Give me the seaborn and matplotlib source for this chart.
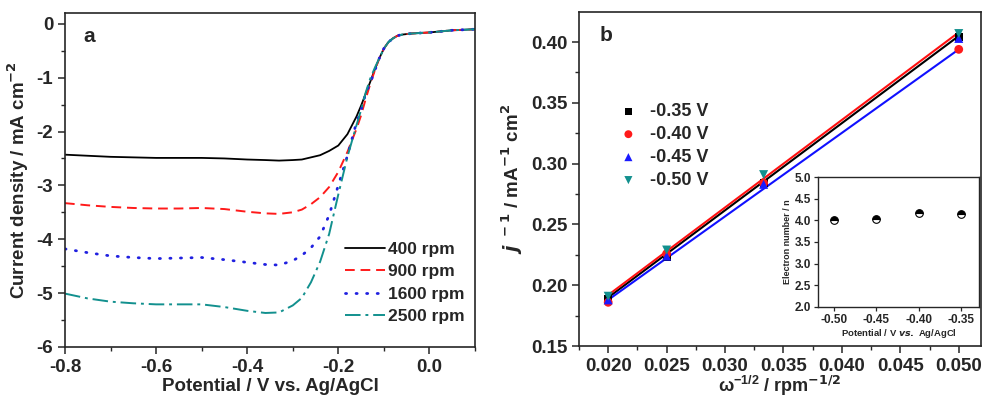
import matplotlib
matplotlib.use("Agg")
import matplotlib.pyplot as plt
import seaborn as sns
from matplotlib.ticker import MultipleLocator

# Panel a: LSV curves (potential grid shared by all rotation rates)
potential = [-0.80, -0.75, -0.70, -0.65, -0.60, -0.55, -0.50, -0.45, -0.40, -0.36, -0.33,
             -0.30, -0.28, -0.26, -0.24, -0.22, -0.20, -0.18, -0.16, -0.15, -0.14, -0.13,
             -0.12, -0.11, -0.10, -0.09, -0.08, -0.07, -0.06, -0.04, -0.02, 0.00, 0.05, 0.10]
tail = [-0.64, -0.46, -0.34, -0.27, -0.22, -0.20, -0.18, -0.17, -0.16, -0.12, -0.10]
j_400 = [-2.43, -2.45, -2.47, -2.48, -2.49, -2.49, -2.49, -2.50, -2.52, -2.53, -2.54,
         -2.53, -2.52, -2.48, -2.44, -2.36, -2.26, -2.05, -1.72, -1.52, -1.30, -1.08,
         -0.85] + tail
j_900 = [-3.33, -3.37, -3.40, -3.42, -3.43, -3.43, -3.42, -3.44, -3.49, -3.52, -3.53,
         -3.50, -3.45, -3.35, -3.22, -3.03, -2.75, -2.38, -1.95, -1.70, -1.40, -1.12,
         -0.87] + tail
j_1600 = [-4.18, -4.25, -4.31, -4.34, -4.36, -4.35, -4.34, -4.38, -4.43, -4.47, -4.48,
          -4.40, -4.30, -4.16, -3.95, -3.55, -3.00, -2.45, -1.83, -1.60, -1.30, -1.10,
          -0.87] + tail
j_2500 = [-5.01, -5.10, -5.16, -5.19, -5.21, -5.21, -5.21, -5.26, -5.33, -5.37, -5.36,
          -5.23, -5.09, -4.80, -4.42, -3.90, -3.17, -2.47, -1.88, -1.60, -1.28, -1.02,
          -0.82] + tail

# Panel b: Koutecky-Levich points
omega = [0.0200, 0.0250, 0.0333, 0.0500]
kl_035 = [0.189, 0.223, 0.284, 0.404]
kl_040 = [0.186, 0.226, 0.284, 0.394]
kl_045 = [0.188, 0.224, 0.283, 0.403]
kl_050 = [0.191, 0.229, 0.291, 0.407]
# fitted lines as drawn (endpoints)
fit_x = [0.0200, 0.0500]
fit_black = [0.190, 0.405]
fit_red = [0.192, 0.408]
fit_blue = [0.188, 0.394]

# Inset: electron transfer number
inset_pot = [-0.50, -0.45, -0.40, -0.35]
inset_n = [4.00, 4.03, 4.16, 4.14]

sns.set_style("ticks")
plt.rcParams.update({
    "font.family": ["Liberation Sans", "DejaVu Sans"],
    "font.weight": "bold",
    "axes.labelweight": "bold",
    "axes.linewidth": 1.2,
    "mathtext.default": "bf",
    "xtick.direction": "out",
    "ytick.direction": "out",
})

fig = plt.figure(figsize=(9.84, 3.96), dpi=100)
ax1 = fig.add_axes([0.066, 0.124, 0.4167, 0.843])
ax2 = fig.add_axes([0.5884, 0.126, 0.4085, 0.843])
ax3 = fig.add_axes([0.8313, 0.225, 0.1636, 0.328])

# ---- panel a ----
sns.lineplot(x=potential, y=j_400, ax=ax1, color="black", lw=1.3, label="400 rpm")
sns.lineplot(x=potential, y=j_900, ax=ax1, color="#ff1a1a", lw=1.4,
             linestyle=(0, (5, 3)), label="900 rpm")
sns.lineplot(x=potential, y=j_1600, ax=ax1, color="#2020e0", lw=2.0,
             linestyle=(0, (0.4, 3.4)), dash_capstyle="round", label="1600 rpm")
sns.lineplot(x=potential, y=j_2500, ax=ax1, color="#12908e", lw=1.4,
             linestyle=(0, (8, 2.5, 1.5, 2.5)), label="2500 rpm")
ax1.set_xlim(-0.8, 0.1)
ax1.set_ylim(-6, 0.2)
ax1.xaxis.set_minor_locator(MultipleLocator(0.1))
ax1.yaxis.set_minor_locator(MultipleLocator(0.5))
ax1.set_xticks([-0.8, -0.6, -0.4, -0.2, 0.0])
ax1.set_xticklabels(["-0.8", "-0.6", "-0.4", "-0.2", "0.0"])
ax1.set_yticks([0, -1, -2, -3, -4, -5, -6])
ax1.set_yticklabels(["0", "-1", "-2", "-3", "-4", "-5", "-6"])
ax1.tick_params(which="major", length=5, width=1.1, labelsize=13.5)
ax1.tick_params(which="minor", length=3, width=1.0)
ax1.set_xlabel("Potential / V vs. Ag/AgCl", fontsize=13.5, labelpad=2)
ax1.set_ylabel("Current density / mA cm$^{-2}$", fontsize=13.5, labelpad=4)
ax1.text(0.045, 0.93, "a", transform=ax1.transAxes, fontsize=15, fontweight="bold",
         va="center")
ax1.legend(loc="lower right", bbox_to_anchor=(1.0, 0.037), frameon=False, fontsize=12.5,
           handlelength=2.3, handletextpad=0.15, labelspacing=0.42, borderaxespad=0.2)

# ---- panel b ----
sns.lineplot(x=fit_x, y=fit_black, ax=ax2, color="black", lw=1.5, legend=False)
sns.lineplot(x=fit_x, y=fit_blue, ax=ax2, color="#1010ff", lw=1.5, legend=False)
sns.lineplot(x=fit_x, y=fit_red, ax=ax2, color="#ff1010", lw=1.5, legend=False)
sns.scatterplot(x=omega, y=kl_035, ax=ax2, marker="s", color="black", s=32,
                edgecolor="none", label="-0.35 V", zorder=3)
sns.scatterplot(x=omega, y=kl_040, ax=ax2, marker="o", color="#ff1a1a", s=40,
                edgecolor="none", label="-0.40 V", zorder=3)
sns.scatterplot(x=omega, y=kl_045, ax=ax2, marker="^", color="#1a1aff", s=42,
                edgecolor="none", label="-0.45 V", zorder=3)
sns.scatterplot(x=omega, y=kl_050, ax=ax2, marker="v", color="#12908e", s=42,
                edgecolor="none", label="-0.50 V", zorder=3)
ax2.set_xlim(0.0175, 0.0519)
ax2.set_ylim(0.15, 0.4245)
ax2.xaxis.set_major_locator(MultipleLocator(0.005))
ax2.xaxis.set_minor_locator(MultipleLocator(0.0025))
ax2.yaxis.set_major_locator(MultipleLocator(0.05))
ax2.yaxis.set_minor_locator(MultipleLocator(0.025))
ax2.xaxis.set_major_formatter(plt.FormatStrFormatter("%.3f"))
ax2.yaxis.set_major_formatter(plt.FormatStrFormatter("%.2f"))
ax2.tick_params(which="major", length=5, width=1.1, labelsize=13.5)
ax2.tick_params(which="minor", length=3, width=1.0)
ax2.set_xlabel(r"$\mathregular{\omega^{-1/2}}$ / rpm$^{-1/2}$", fontsize=13, labelpad=-1)
ax2.set_ylabel(r"$\mathit{j}^{\ -1}$ / mA$^{-1}$ cm$^{2}$", fontsize=13.5, labelpad=4)
ax2.text(0.05, 0.93, "b", transform=ax2.transAxes, fontsize=15, fontweight="bold",
         va="center")
ax2.legend(loc="upper left", bbox_to_anchor=(0.06, 0.75), frameon=False, fontsize=13,
           handletextpad=0.2, labelspacing=0.33, borderaxespad=0.0, markerscale=0.9)

# ---- inset ----
sns.lineplot(x=inset_pot, y=inset_n, ax=ax3, marker="o", linestyle="", color="black",
             markersize=5.5, fillstyle="top", markerfacecoloralt="white",
             markeredgecolor="black", markeredgewidth=0.8)
ax3.set_xlim(-0.519, -0.329)
ax3.set_ylim(2.0, 5.0)
ax3.set_xticks(inset_pot)
ax3.set_xticklabels(["-0.50", "-0.45", "-0.40", "-0.35"])
ax3.yaxis.set_major_locator(MultipleLocator(0.5))
ax3.yaxis.set_major_formatter(plt.FormatStrFormatter("%.1f"))
ax3.tick_params(which="major", length=3, width=0.9, labelsize=8.5, pad=2)
for s in ax3.spines.values():
    s.set_linewidth(1.0)
ax3.set_xlabel(r"Potential / V $\mathbf{\mathit{vs.}}$ Ag/AgCl", fontsize=6.8, labelpad=1)
ax3.set_ylabel("Electron number / n", fontsize=6.5, labelpad=2)

fig.savefig("out.png", dpi=100)
